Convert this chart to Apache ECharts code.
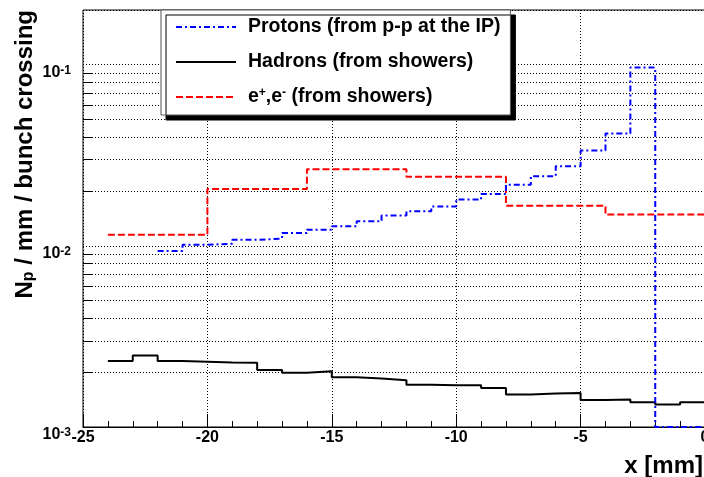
<!DOCTYPE html>
<html>
<head>
<meta charset="utf-8">
<script src="https://cdn.jsdelivr.net/npm/echarts@6/dist/echarts.min.js"></script>
<style>
html, body { margin: 0; padding: 0; background: #fff; }
#main { width: 704px; height: 477px; }
</style>
</head>
<body>
<div id="main"></div>
<script>
// axis ranges
var xMin = -25, xMax = 0;
var yMin = 0.001, yMax = 0.2;

// minor log grid levels (2..9 per decade)
var minorLevels = [0.002, 0.003, 0.004, 0.005, 0.006, 0.007, 0.008, 0.009,
  0.02, 0.03, 0.04, 0.05, 0.06, 0.07, 0.08, 0.09];

// protons from p-p at the IP, 1 mm bins (left edges), 0 = empty bin
var protonBins = [-22, -21, -20, -19, -18, -17, -16, -15, -14, -13, -12, -11, -10, -9, -8, -7, -6, -5, -4, -3, -2, -1];
var protonValues = [0.00937, 0.01013, 0.01026, 0.01079, 0.01096, 0.01175, 0.01227, 0.0128, 0.01364, 0.01467, 0.01549,
  0.01649, 0.01798, 0.01933, 0.02169, 0.0242, 0.0275, 0.0336, 0.0417, 0.0962, 0, 0];

// hadrons from showers, 1 mm bins
var hadronBins = [-24, -23, -22, -21, -20, -19, -18, -17, -16, -15, -14, -13, -12, -11, -10, -9, -8, -7, -6, -5, -4, -3, -2, -1];
var hadronValues = [0.00231, 0.00248, 0.00231, 0.00229, 0.00227, 0.00226, 0.00206, 0.00199, 0.00203, 0.00188, 0.00185, 0.00181,
  0.00171, 0.00170, 0.00170, 0.00164, 0.00151, 0.00153, 0.00154, 0.00141, 0.00142, 0.00137, 0.00133, 0.00137];

// e+,e- from showers, 4 mm bins
var electronBins = [-24, -20, -16, -12, -8, -4];
var electronValues = [0.01151, 0.0206, 0.0264, 0.0240, 0.01664, 0.01486];

var names = ['Protons (from p-p at the IP)', 'Hadrons (from showers)', 'e+,e- (from showers)'];
var legendText = {};
legendText[names[0]] = names[0];
legendText[names[1]] = names[1];
legendText[names[2]] = 'e{sup|+},e{sup|-} (from showers)';

var font = 'Liberation Sans';

// histogram outline: left edges + closing right edge, empty bins clipped to the axis bottom
function steps(bins, values, width) {
  var d = [];
  for (var i = 0; i < bins.length; i++) {
    d.push([bins[i], values[i] > 0 ? values[i] : yMin]);
  }
  var last = values[values.length - 1];
  d.push([bins[bins.length - 1] + width, last > 0 ? last : yMin]);
  return d;
}

var dotted = { color: '#000', width: 1, type: [1, 2] };

// dotted minor grid line + short tick on the left axis
function minorGrid(params, api) {
  var v = api.value(1);
  var p0 = api.coord([xMin, v]);
  var p1 = api.coord([xMax, v]);
  var y = Math.round(p0[1]) + 0.5;
  return {
    type: 'group',
    children: [
      { type: 'line', shape: { x1: p0[0], y1: y, x2: p1[0], y2: y }, style: { stroke: '#000', lineWidth: 1, lineDash: [1, 2] } },
      { type: 'line', shape: { x1: p0[0], y1: y, x2: p0[0] + 9, y2: y }, style: { stroke: '#000', lineWidth: 1 } }
    ]
  };
}

var option = {
  animation: false,
  grid: { left: 83, top: 10, right: -1, bottom: 50, outerBoundsMode: 'none', containLabel: false,
    show: true, borderColor: '#000', borderWidth: 1 },
  legend: {
    orient: 'vertical',
    left: 161, top: 10,
    data: names,
    selectedMode: false,
    itemWidth: 60, itemHeight: 14, itemGap: 15,
    padding: [7, 10, 8, 14],
    backgroundColor: '#fff',
    borderColor: '#555', borderWidth: 1,
    shadowColor: '#000', shadowBlur: 0, shadowOffsetX: 5, shadowOffsetY: 5,
    itemStyle: { opacity: 0 },
    formatter: function (name) { return legendText[name]; },
    textStyle: {
      fontFamily: font, fontWeight: 'bold', fontSize: 19.5, color: '#000', lineHeight: 20,
      padding: [0, 0, 0, 7],
      rich: { sup: { fontFamily: font, fontWeight: 'bold', fontSize: 12, verticalAlign: 'top', lineHeight: 14 } }
    }
  },
  xAxis: {
    type: 'value', min: xMin, max: xMax, interval: 5,
    axisLine: { show: true, onZero: false, lineStyle: { color: '#000', width: 1 } },
    axisTick: { show: true, inside: true, length: 13, lineStyle: { color: '#000' } },
    minorTick: { show: true, splitNumber: 5, length: 6, lineStyle: { color: '#000' } },
    splitLine: { show: true, lineStyle: dotted },
    axisLabel: { color: '#000', fontFamily: font, fontWeight: 'bold', fontSize: 16, margin: 3 }
  },
  yAxis: {
    type: 'log', logBase: 10, min: yMin, max: yMax,
    axisLine: { show: true, lineStyle: { color: '#000', width: 1 } },
    axisTick: { show: true, inside: true, length: 16, lineStyle: { color: '#000' } },
    minorTick: { show: false },
    splitLine: { show: true, lineStyle: dotted },
    minorSplitLine: { show: false },
    axisLabel: {
      margin: 12, verticalAlign: 'top',
      formatter: function (v) {
        var e = Math.round(Math.log(v) / Math.LN10);
        if (Math.abs(v / Math.pow(10, e) - 1) > 1e-6) return '';
        return '{b|10}{s|' + e + '}';
      },
      rich: {
        b: { fontFamily: font, fontWeight: 'bold', fontSize: 16, color: '#000', lineHeight: 16 },
        s: { fontFamily: font, fontWeight: 'bold', fontSize: 12, color: '#000', verticalAlign: 'top', lineHeight: 12 }
      }
    }
  },
  series: [
    {
      type: 'custom', name: 'minor grid', silent: true, clip: false, z: 1,
      renderItem: minorGrid,
      data: minorLevels.map(function (v) { return [xMin, v]; })
    },
    {
      name: names[0], type: 'line', step: 'end', symbol: 'none',
      data: steps(protonBins, protonValues, 1),
      lineStyle: { color: '#0000ff', width: 2, type: [6, 3, 2, 3] },
      itemStyle: { color: '#0000ff' }, z: 3
    },
    {
      name: names[1], type: 'line', step: 'end', symbol: 'none',
      data: steps(hadronBins, hadronValues, 1),
      lineStyle: { color: '#000', width: 2, type: 'solid' },
      itemStyle: { color: '#000' }, z: 2
    },
    {
      name: names[2], type: 'line', step: 'end', symbol: 'none',
      data: steps(electronBins, electronValues, 4),
      lineStyle: { color: '#ff0000', width: 2, type: [7, 3] },
      itemStyle: { color: '#ff0000' }, z: 2
    }
  ],
  graphic: [
    {
      type: 'text', x: 25, y: 10, rotation: Math.PI / 2,
      style: {
        text: 'N{sub|p} / mm / bunch crossing',
        fontFamily: font, fontWeight: 'bold', fontSize: 24, fill: '#000',
        align: 'right', verticalAlign: 'middle',
        rich: { sub: { fontFamily: font, fontWeight: 'bold', fontSize: 16, verticalAlign: 'bottom' } }
      }
    },
    {
      type: 'text', x: 703, y: 466,
      style: { text: 'x [mm]', fontFamily: font, fontWeight: 'bold', fontSize: 24, fill: '#000', align: 'right', verticalAlign: 'middle' }
    }
  ]
};

var myChart = echarts.init(document.getElementById('main'));
myChart.setOption(option);
</script>
</body>
</html>
